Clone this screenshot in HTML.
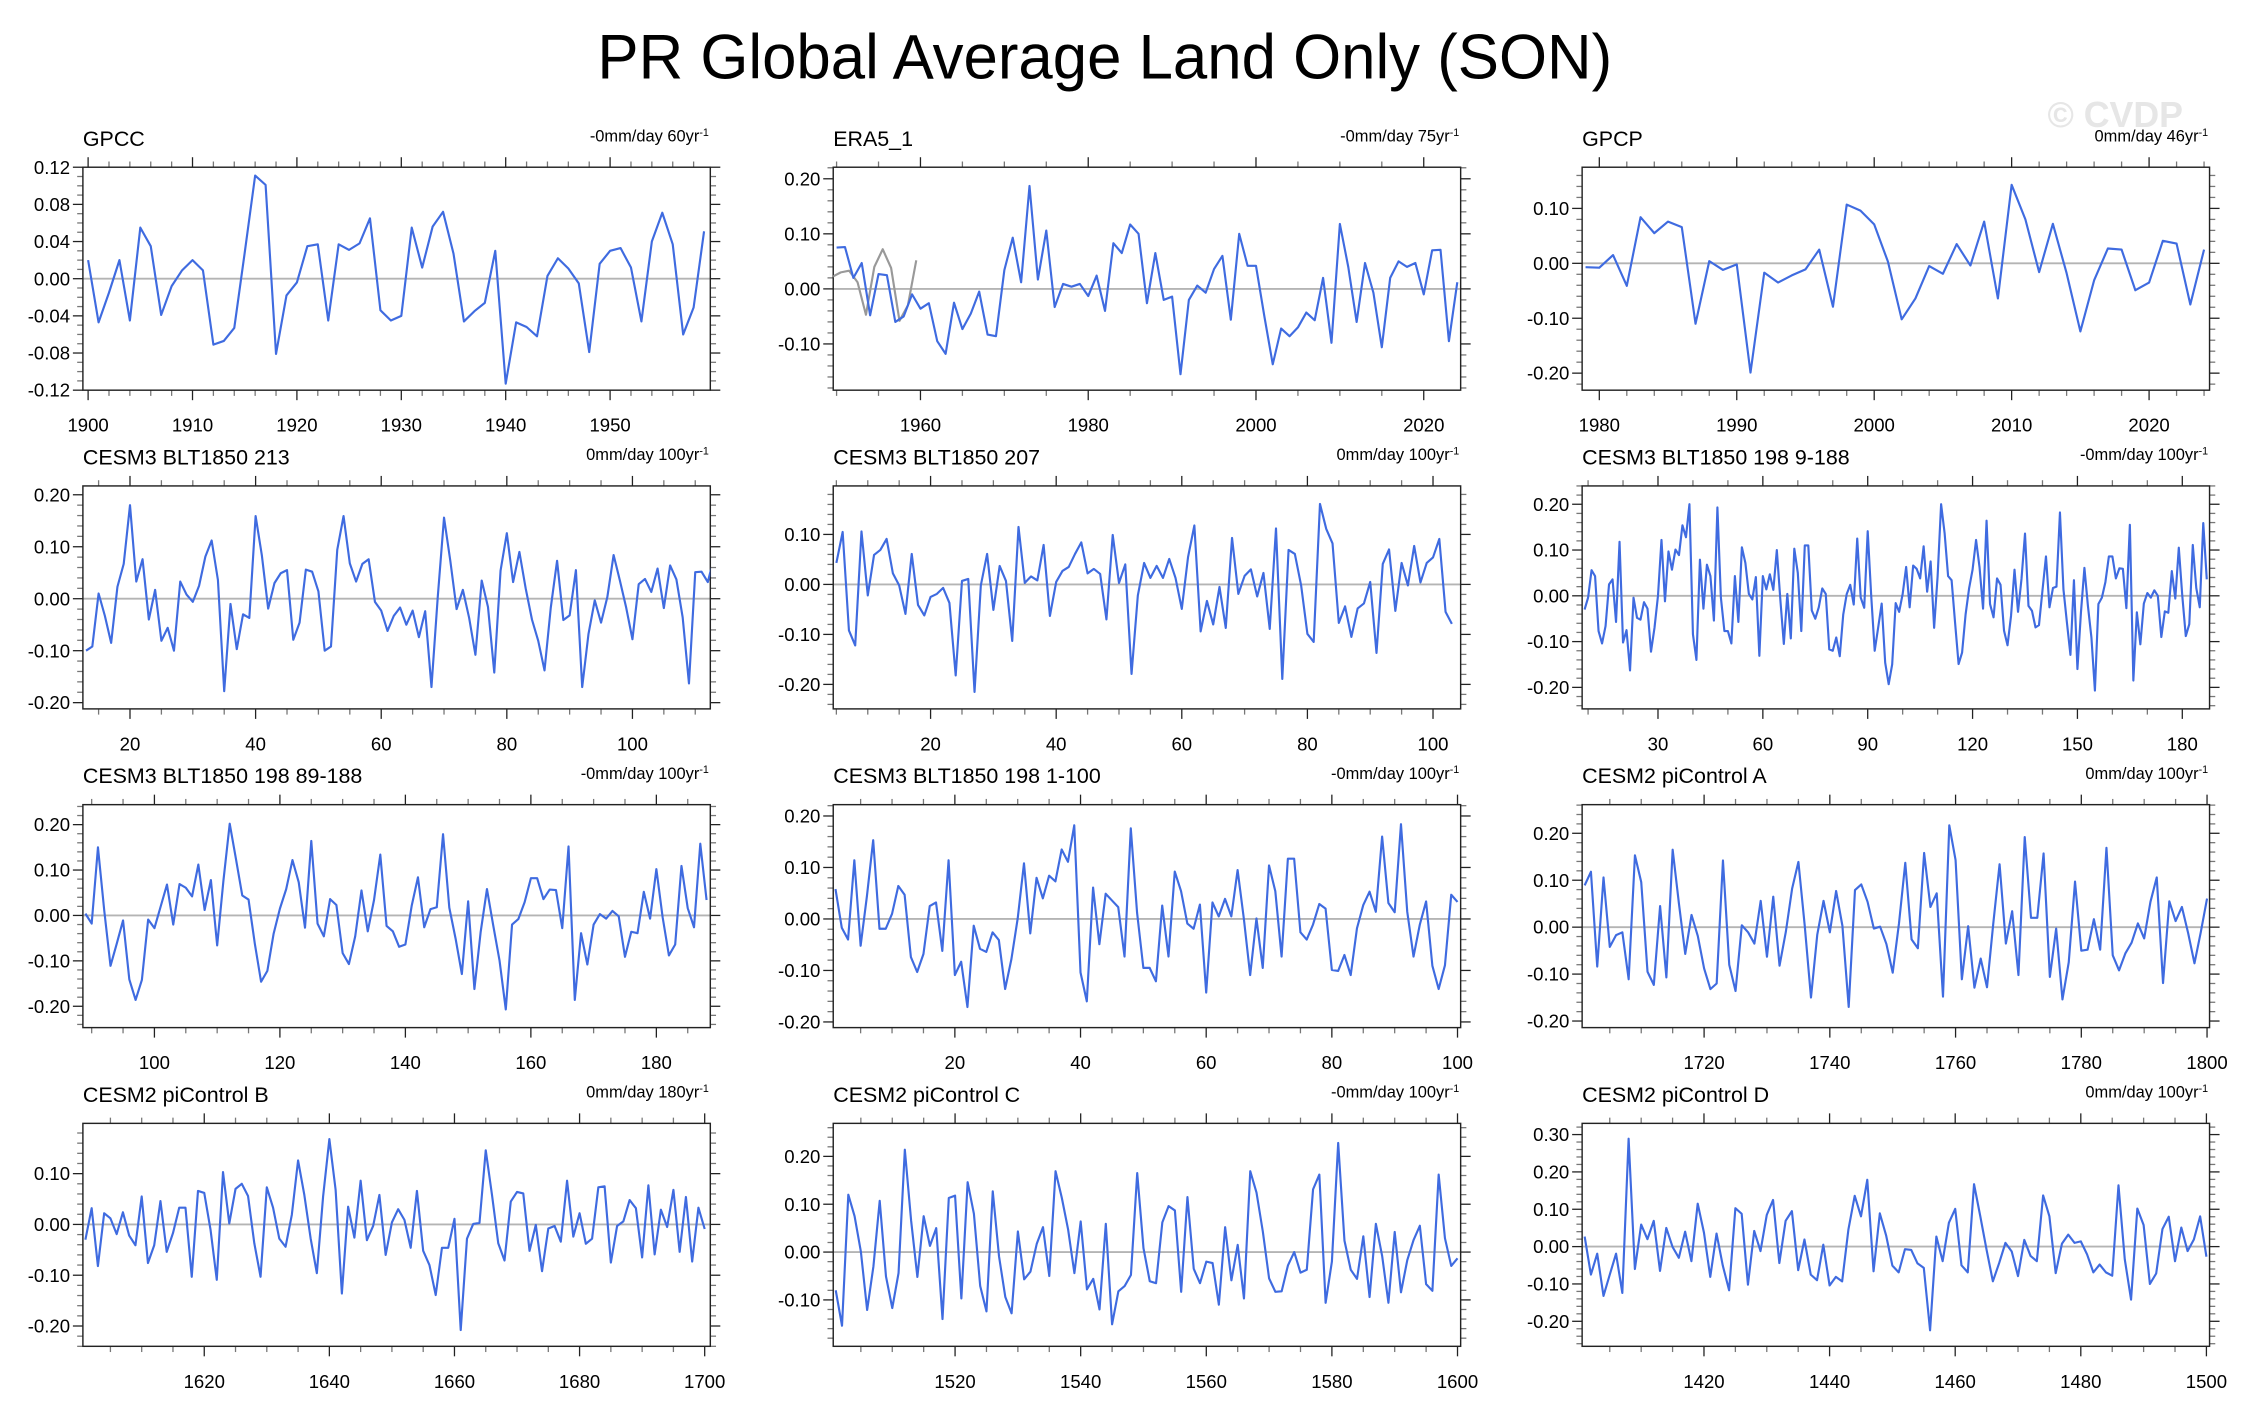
<!DOCTYPE html>
<html><head><meta charset="utf-8">
<style>
html,body{margin:0;padding:0;background:#fff;}
svg{display:block;}
text{font-family:"Liberation Sans",Arial,sans-serif;}
</style></head>
<body>
<svg id="chart" xmlns="http://www.w3.org/2000/svg" width="2241" height="1418" viewBox="0 0 1568 992.15">
<rect x="0" y="0" width="1568" height="992.15" fill="#fff"/>
<text x="773" y="55" font-size="44" text-anchor="middle" textLength="710" lengthAdjust="spacingAndGlyphs" fill="#000">PR Global Average Land Only (SON)</text>
<text x="1480" y="89" font-size="25" font-weight="bold" text-anchor="middle" fill="#e6e6e6">© CVDP</text>
</svg>
<script>
// ---------- data ----------
const gpccVals=[0.02,-0.047,-0.015,0.02,-0.045,0.055,0.035,-0.039,-0.008,0.009,0.02,0.009,-0.071,-0.067,-0.053,0.028,0.111,0.101,-0.081,-0.018,-0.004,0.035,0.037,-0.045,0.037,0.031,0.038,0.065,-0.034,-0.045,-0.04,0.055,0.012,0.056,0.072,0.027,-0.046,-0.035,-0.026,0.03,-0.113,-0.047,-0.052,-0.062,0.003,0.022,0.011,-0.005,-0.079,0.016,0.03,0.033,0.012,-0.046,0.04,0.071,0.037,-0.06,-0.031,0.051];
const era5Vals=[0.075,0.076,0.02,0.047,-0.048,0.027,0.025,-0.06,-0.05,-0.01,-0.036,-0.026,-0.095,-0.118,-0.025,-0.073,-0.045,-0.005,-0.083,-0.086,0.034,0.093,0.012,0.187,0.017,0.106,-0.033,0.009,0.004,0.009,-0.013,0.024,-0.04,0.083,0.065,0.117,0.1,-0.026,0.065,-0.02,-0.014,-0.155,-0.02,0.006,-0.007,0.036,0.06,-0.056,0.1,0.042,0.042,-0.05,-0.137,-0.072,-0.086,-0.07,-0.043,-0.057,0.02,-0.098,0.118,0.04,-0.06,0.047,-0.007,-0.106,0.02,0.05,0.04,0.047,-0.01,0.07,0.071,-0.095,0.012];
const era5GrayVals=[0.022,0.03,0.033,0.012,-0.047,0.04,0.072,0.038,-0.058,-0.03,0.052];
const gpcpVals=[-0.007,-0.008,0.015,-0.041,0.084,0.055,0.076,0.066,-0.11,0.004,-0.012,-0.002,-0.199,-0.017,-0.035,-0.022,-0.011,0.025,-0.079,0.107,0.096,0.071,0.003,-0.102,-0.064,-0.005,-0.019,0.035,-0.004,0.076,-0.064,0.143,0.08,-0.016,0.072,-0.018,-0.124,-0.031,0.027,0.025,-0.049,-0.035,0.041,0.036,-0.075,0.025];
const c213Vals=[-0.1,-0.092,0.01,-0.033,-0.085,0.023,0.067,0.18,0.033,0.076,-0.04,0.017,-0.081,-0.056,-0.1,0.033,0.008,-0.006,0.025,0.081,0.112,0.036,-0.178,-0.01,-0.097,-0.03,-0.037,0.159,0.083,-0.019,0.03,0.049,0.055,-0.079,-0.046,0.056,0.052,0.014,-0.1,-0.092,0.094,0.159,0.068,0.033,0.067,0.076,-0.006,-0.023,-0.062,-0.033,-0.017,-0.05,-0.023,-0.074,-0.024,-0.17,0.003,0.156,0.073,-0.02,0.017,-0.037,-0.108,0.035,-0.016,-0.142,0.054,0.126,0.032,0.09,0.02,-0.04,-0.081,-0.138,-0.017,0.073,-0.041,-0.032,0.055,-0.17,-0.068,-0.003,-0.046,0.003,0.084,0.035,-0.017,-0.078,0.028,0.038,0.013,0.058,-0.018,0.064,0.037,-0.036,-0.163,0.051,0.052,0.032,0.08];
const c207Vals=[0.043,0.105,-0.092,-0.122,0.106,-0.022,0.059,0.069,0.091,0.022,-0.002,-0.059,0.061,-0.041,-0.062,-0.025,-0.019,-0.007,-0.037,-0.182,0.007,0.011,-0.215,-0.002,0.061,-0.051,0.037,0.007,-0.113,0.115,0.003,0.016,0.008,0.079,-0.063,0.005,0.027,0.035,0.061,0.084,0.022,0.031,0.021,-0.07,0.099,0.003,0.04,-0.179,-0.022,0.043,0.013,0.037,0.013,0.051,0.013,-0.049,0.055,0.118,-0.094,-0.033,-0.08,-0.005,-0.087,0.093,-0.019,0.017,0.03,-0.024,0.023,-0.089,0.112,-0.189,0.069,0.061,-0.002,-0.099,-0.115,0.161,0.111,0.082,-0.077,-0.044,-0.105,-0.048,-0.038,0.005,-0.137,0.041,0.07,-0.053,0.043,-0.002,0.077,0.004,0.043,0.054,0.091,-0.055,-0.079];
const c198aVals=[-0.03,-0.004,0.056,0.043,-0.077,-0.104,-0.066,0.025,0.036,-0.057,0.118,-0.102,-0.075,-0.163,-0.004,-0.048,-0.052,-0.014,-0.028,-0.122,-0.07,0,0.122,-0.012,0.097,0.057,0.101,0.089,0.154,0.128,0.2,-0.084,-0.14,0.079,-0.028,0.068,0.043,-0.054,0.193,-0.004,-0.077,-0.077,-0.104,0.043,-0.057,0.106,0.072,0.004,-0.008,0.041,-0.131,0.043,0.014,0.047,0.013,0.1,-0.008,-0.105,0.004,-0.093,0.103,0.05,-0.077,0.11,0.11,-0.032,-0.05,-0.025,0.016,0.004,-0.117,-0.12,-0.091,-0.132,-0.041,0.004,0.024,-0.019,0.125,-0.004,-0.026,0.141,0,-0.12,-0.069,-0.017,-0.146,-0.193,-0.15,-0.016,-0.035,0.004,0.063,-0.025,0.066,0.059,0.038,0.108,0.009,0.075,-0.07,0.043,0.2,0.137,0.043,0.034,-0.059,-0.149,-0.124,-0.041,0.016,0.057,0.122,0.062,-0.028,0.164,-0.018,-0.047,0.038,0.024,-0.076,-0.108,-0.044,0.057,-0.035,0.037,0.136,-0.022,-0.033,-0.069,-0.064,0.012,0.086,-0.025,0.017,0.02,0.182,0.014,-0.059,-0.129,0.034,-0.16,-0.037,0.061,-0.022,-0.091,-0.207,-0.018,-0.004,0.03,0.086,0.086,0.038,0.06,0.059,-0.027,0.155,-0.185,-0.036,-0.106,-0.017,0.006,-0.004,0.012,0,-0.09,-0.034,-0.037,0.054,-0.006,0.105,0,-0.088,-0.062,0.111,0.017,-0.025,0.159,0.036];
const c198bVals=[0.004,-0.018,0.15,0.011,-0.111,-0.062,-0.011,-0.141,-0.186,-0.142,-0.009,-0.028,0.02,0.068,-0.02,0.069,0.061,0.042,0.112,0.012,0.078,-0.066,0.077,0.202,0.124,0.044,0.035,-0.062,-0.146,-0.122,-0.04,0.015,0.058,0.122,0.073,-0.027,0.164,-0.018,-0.046,0.036,0.023,-0.083,-0.107,-0.046,0.055,-0.035,0.034,0.134,-0.023,-0.035,-0.069,-0.064,0.021,0.084,-0.026,0.014,0.018,0.179,0.017,-0.051,-0.129,0.031,-0.162,-0.036,0.058,-0.022,-0.099,-0.207,-0.02,-0.008,0.029,0.082,0.082,0.036,0.057,0.056,-0.028,0.152,-0.186,-0.039,-0.108,-0.02,0.003,-0.007,0.01,-0.002,-0.091,-0.036,-0.039,0.052,-0.007,0.102,-0.004,-0.088,-0.064,0.109,0.016,-0.026,0.158,0.034];
const c198cVals=[0.058,-0.017,-0.04,0.114,-0.052,0.044,0.153,-0.019,-0.019,0.01,0.064,0.047,-0.074,-0.103,-0.068,0.025,0.032,-0.062,0.114,-0.109,-0.083,-0.171,-0.013,-0.058,-0.064,-0.026,-0.041,-0.136,-0.078,0.001,0.108,-0.028,0.08,0.04,0.084,0.073,0.135,0.111,0.182,-0.104,-0.16,0.061,-0.049,0.049,0.036,0.023,-0.073,0.176,0.012,-0.095,-0.095,-0.121,0.026,-0.073,0.092,0.054,-0.009,-0.019,0.028,-0.143,0.032,0.005,0.039,0.005,0.095,0,-0.109,0.001,-0.095,0.104,0.054,-0.073,0.117,0.117,-0.026,-0.04,-0.011,0.029,0.02,-0.099,-0.101,-0.07,-0.109,-0.018,0.027,0.053,0.014,0.16,0.031,0.013,0.184,0.014,-0.073,-0.011,0.034,-0.091,-0.136,-0.09,0.047,0.033];
const pcAVals=[0.089,0.118,-0.084,0.106,-0.042,-0.017,-0.011,-0.111,0.153,0.096,-0.095,-0.123,0.045,-0.107,0.165,0.05,-0.057,0.026,-0.019,-0.088,-0.132,-0.12,0.142,-0.08,-0.136,0.004,-0.011,-0.035,0.056,-0.063,0.065,-0.082,-0.01,0.082,0.139,0.004,-0.15,-0.016,0.056,-0.011,0.077,0.003,-0.17,0.079,0.091,0.054,-0.003,0.001,-0.036,-0.097,0.008,0.137,-0.026,-0.045,0.158,0.043,0.072,-0.148,0.217,0.143,-0.111,0.002,-0.129,-0.067,-0.128,0.008,0.134,-0.035,0.034,-0.102,0.192,0.02,0.02,0.157,-0.106,-0.003,-0.154,-0.075,0.097,-0.05,-0.048,0.017,-0.048,0.169,-0.06,-0.092,-0.056,-0.033,0.008,-0.024,0.054,0.106,-0.119,0.055,0.013,0.043,-0.013,-0.077,-0.011,0.061];
const pcBVals=[-0.03,0.032,-0.082,0.022,0.012,-0.019,0.024,-0.022,-0.041,0.055,-0.076,-0.041,0.046,-0.054,-0.017,0.033,0.033,-0.103,0.066,0.062,-0.01,-0.109,0.103,0.002,0.07,0.08,0.056,-0.037,-0.103,0.073,0.033,-0.028,-0.044,0.019,0.126,0.058,-0.027,-0.096,0.055,0.168,0.068,-0.136,0.035,-0.026,0.086,-0.031,-0.003,0.058,-0.06,0.004,0.03,0.009,-0.046,0.066,-0.052,-0.08,-0.139,-0.046,-0.046,0.011,-0.208,-0.028,0.001,0.003,0.146,0.058,-0.037,-0.071,0.045,0.064,0.061,-0.052,-0.001,-0.092,-0.008,-0.003,-0.034,0.086,-0.024,0.022,-0.038,-0.028,0.073,0.075,-0.075,-0.003,0.006,0.048,0.032,-0.065,0.077,-0.059,0.029,-0.005,0.068,-0.054,0.054,-0.073,0.033,-0.009];
const pcCVals=[-0.08,-0.154,0.12,0.075,0.001,-0.121,-0.03,0.107,-0.051,-0.117,-0.044,0.214,0.066,-0.052,0.075,0.013,0.05,-0.14,0.113,0.118,-0.097,0.146,0.08,-0.071,-0.124,0.127,-0.009,-0.094,-0.128,0.043,-0.057,-0.041,0.017,0.052,-0.05,0.169,0.113,0.047,-0.044,0.064,-0.078,-0.056,-0.12,0.059,-0.151,-0.082,-0.071,-0.048,0.165,0.008,-0.061,-0.065,0.062,0.096,0.087,-0.083,0.115,-0.035,-0.065,-0.02,-0.023,-0.11,0.052,-0.059,0.015,-0.097,0.169,0.124,0.043,-0.055,-0.083,-0.082,-0.028,0,-0.043,-0.037,0.131,0.162,-0.106,-0.02,0.228,0.024,-0.037,-0.056,0.033,-0.094,0.059,-0.008,-0.106,0.042,-0.084,-0.017,0.025,0.055,-0.067,-0.081,0.162,0.029,-0.029,-0.013];
const pcDVals=[0.027,-0.075,-0.019,-0.132,-0.075,-0.019,-0.124,0.289,-0.06,0.059,0.02,0.069,-0.065,0.05,-0.001,-0.03,0.04,-0.039,0.115,0.037,-0.081,0.035,-0.051,-0.117,0.103,0.088,-0.102,0.042,-0.012,0.085,0.125,-0.044,0.069,0.095,-0.063,0.019,-0.075,-0.09,0.005,-0.104,-0.081,-0.093,0.046,0.136,0.081,0.179,-0.066,0.089,0.03,-0.051,-0.069,-0.007,-0.009,-0.045,-0.057,-0.224,0.027,-0.039,0.064,0.101,-0.05,-0.069,0.167,0.081,-0.009,-0.093,-0.044,0.01,-0.013,-0.079,0.018,-0.025,-0.039,0.137,0.081,-0.071,0.008,0.032,0.01,0.014,-0.021,-0.069,-0.048,-0.069,-0.078,0.164,-0.034,-0.142,0.102,0.058,-0.1,-0.072,0.047,0.08,-0.039,0.051,-0.012,0.019,0.081,-0.027];

// tick label arrays
const yTicksGpcc=[-0.12,-0.08,-0.04,0,0.04,0.08,0.12];
const yTicksEra5=[-0.1,0,0.1,0.2];
const yTicksGpcp=[-0.2,-0.1,0,0.1];
const yTicksC213=[-0.2,-0.1,0,0.1,0.2];
const yTicksC207=[-0.2,-0.1,0,0.1];
const yTicksC198a=[-0.2,-0.1,0,0.1,0.2];
const yTicksC198b=[-0.2,-0.1,0,0.1,0.2];
const yTicksC198c=[-0.2,-0.1,0,0.1,0.2];
const yTicksPcA=[-0.2,-0.1,0,0.1,0.2];
const yTicksPcB=[-0.2,-0.1,0,0.1];
const yTicksPcC=[-0.1,0,0.1,0.2];
const yTicksPcD=[-0.2,-0.1,0,0.1,0.2,0.3];
const xTicksGpcc=[1900,1910,1920,1930,1940,1950];
const xTicksEra5=[1960,1980,2000,2020];
const xTicksGpcp=[1980,1990,2000,2010,2020];
const xTicksC213=[20,40,60,80,100];
const xTicksC207=[20,40,60,80,100];
const xTicksC198a=[30,60,90,120,150,180];
const xTicksC198b=[100,120,140,160,180];
const xTicksC198c=[20,40,60,80,100];
const xTicksPcA=[1720,1740,1760,1780,1800];
const xTicksPcB=[1620,1640,1660,1680,1700];
const xTicksPcC=[1520,1540,1560,1580,1600];
const xTicksPcD=[1420,1440,1460,1480,1500];

// ---------- layout ----------
const colX=[58,583,1107], rowY=[117,340,563,786], BW=439, BH=156;
const panels=[
 {id:'gpcc',title:'GPCC',rl:'-0mm/day 60yr',c:0,r:0,x0:1899.5,x1:1959.6,y0:-0.12,y1:0.12,start:1900,vals:gpccVals,yt:yTicksGpcc,xt:xTicksGpcc,xmin:2,ymin:0.01},
 {id:'era5',title:'ERA5_1',rl:'-0mm/day 75yr',c:1,r:0,x0:1949.6,x1:2024.4,y0:-0.184,y1:0.221,start:1950,vals:era5Vals,gray:era5GrayVals,grayStart:1949.5,yt:yTicksEra5,xt:xTicksEra5,xmin:5,ymin:0.02},
 {id:'gpcp',title:'GPCP',rl:'0mm/day 46yr',c:2,r:0,x0:1978.75,x1:2024.4,y0:-0.231,y1:0.175,start:1979,vals:gpcpVals,yt:yTicksGpcp,xt:xTicksGpcp,xmin:2,ymin:0.02},
 {id:'cesm3-213',title:'CESM3 BLT1850 213',rl:'0mm/day 100yr',c:0,r:1,x0:12.5,x1:112.4,y0:-0.212,y1:0.217,start:13,vals:c213Vals,yt:yTicksC213,xt:xTicksC213,xmin:5,ymin:0.02},
 {id:'cesm3-207',title:'CESM3 BLT1850 207',rl:'0mm/day 100yr',c:1,r:1,x0:4.5,x1:104.4,y0:-0.249,y1:0.197,start:5,vals:c207Vals,yt:yTicksC207,xt:xTicksC207,xmin:5,ymin:0.02},
 {id:'cesm3-198-9-188',title:'CESM3 BLT1850 198 9-188',rl:'-0mm/day 100yr',c:2,r:1,x0:8.3,x1:187.8,y0:-0.247,y1:0.24,start:9,vals:c198aVals,yt:yTicksC198a,xt:xTicksC198a,xmin:10,ymin:0.02},
 {id:'cesm3-198-89-188',title:'CESM3 BLT1850 198 89-188',rl:'-0mm/day 100yr',c:0,r:2,x0:88.6,x1:188.6,y0:-0.247,y1:0.244,start:89,vals:c198bVals,yt:yTicksC198b,xt:xTicksC198b,xmin:5,ymin:0.02},
 {id:'cesm3-198-1-100',title:'CESM3 BLT1850 198 1-100',rl:'-0mm/day 100yr',c:1,r:2,x0:0.64,x1:100.5,y0:-0.211,y1:0.222,start:1,vals:c198cVals,yt:yTicksC198c,xt:xTicksC198c,xmin:5,ymin:0.02},
 {id:'cesm2-a',title:'CESM2 piControl A',rl:'0mm/day 100yr',c:2,r:2,x0:1700.6,x1:1800.4,y0:-0.214,y1:0.261,start:1701,vals:pcAVals,yt:yTicksPcA,xt:xTicksPcA,xmin:5,ymin:0.02},
 {id:'cesm2-b',title:'CESM2 piControl B',rl:'0mm/day 180yr',c:0,r:3,x0:1600.6,x1:1700.9,y0:-0.24,y1:0.199,start:1601,vals:pcBVals,yt:yTicksPcB,xt:xTicksPcB,xmin:5,ymin:0.02},
 {id:'cesm2-c',title:'CESM2 piControl C',rl:'-0mm/day 100yr',c:1,r:3,x0:1500.6,x1:1600.5,y0:-0.197,y1:0.269,start:1501,vals:pcCVals,yt:yTicksPcC,xt:xTicksPcC,xmin:5,ymin:0.02},
 {id:'cesm2-d',title:'CESM2 piControl D',rl:'0mm/day 100yr',c:2,r:3,x0:1400.6,x1:1500.5,y0:-0.267,y1:0.33,start:1401,vals:pcDVals,yt:yTicksPcD,xt:xTicksPcD,xmin:5,ymin:0.02}
];

const NS='http://www.w3.org/2000/svg';
const svg=document.getElementById('chart');
function mk(tag,attrs,parent){const e=document.createElementNS(NS,tag);for(const k in attrs)e.setAttribute(k,attrs[k]);(parent||svg).appendChild(e);return e;}

panels.forEach((p,pi)=>{
  const L=colX[p.c], T=rowY[p.r], R=L+BW, B=T+BH;
  const sx=v=>L+(v-p.x0)/(p.x1-p.x0)*BW;
  const sy=v=>B-(v-p.y0)/(p.y1-p.y0)*BH;
  const g=mk('g',{});
  
  
  const clipId='clip'+pi;
  const cp=mk('clipPath',{id:clipId},g);
  mk('rect',{x:L,y:T,width:BW,height:BH},cp);
  const zl=mk('line',{x1:L,x2:R,y1:sy(0),y2:sy(0),stroke:'#b4b4b4','stroke-width':1.3},g);
  
  
  const tg=mk('g',{stroke:'#222','stroke-width':0.9},g);
  
  
  const eps=1e-6;
  let xs=Math.ceil(p.x0/p.xmin)*p.xmin;
  for(let v=xs;v<=p.x1+eps;v+=p.xmin){
    const major=p.xt.some(t=>Math.abs(t-v)<eps) || Math.abs(v/(p.xt[1]-p.xt[0])-Math.round(v/(p.xt[1]-p.xt[0])))<eps;
    const len=major?7:4, x=sx(v);
    mk('line',{x1:x,x2:x,y1:B,y2:B+len,stroke:major?'#222':'#777'},tg);
    mk('line',{x1:x,x2:x,y1:T,y2:T-len,stroke:major?'#222':'#777'},tg);
  }
  const ystep=p.yt[1]-p.yt[0];
  let ys=Math.ceil((p.y0-eps)/p.ymin)*p.ymin;
  for(let v=ys;v<=p.y1+eps;v+=p.ymin){
    const major=Math.abs(v/ystep-Math.round(v/ystep))<1e-4;
    const len=major?7:4, y=sy(v);
    mk('line',{x1:L,x2:L-len,y1:y,y2:y,stroke:major?'#222':'#777'},tg);
    mk('line',{x1:R,x2:R+len,y1:y,y2:y,stroke:major?'#222':'#777'},tg);
  }
  const fr=mk('rect',{x:L,y:T,width:BW,height:BH,fill:'none',stroke:'#222','stroke-width':1},g);
  
  
  p.yt.forEach(v=>{
    const t=mk('text',{x:L-9,y:sy(v)+4.6,'font-size':13,'text-anchor':'end',fill:'#000'},g);
    
    
    t.textContent=v.toFixed(2);
  });
  p.xt.forEach(v=>{
    const t=mk('text',{x:sx(v),y:B+29,'font-size':13,'text-anchor':'middle',fill:'#000'},g);
    
    
    t.textContent=String(v);
  });
  const tt=mk('text',{x:L,y:T-15,'font-size':15,fill:'#000'},g);
  
  
  tt.textContent=p.title;
  const rl=mk('text',{x:R-1,y:T-18,'font-size':11.5,'text-anchor':'end',fill:'#000'},g);
  
  
  rl.textContent=p.rl;
  const sup=mk('tspan',{dy:-4,'font-size':7.5},rl);
  sup.textContent='-1';
  const lg=mk('g',{'clip-path':'url(#'+clipId+')'},g);
  if(p.gray){
    const pts=p.gray.map((v,i)=>sx(p.grayStart+i).toFixed(2)+','+sy(v).toFixed(2)).join(' ');
    const gl=mk('polyline',{points:pts,fill:'none',stroke:'#999','stroke-width':1.5,'stroke-linejoin':'round'},lg);
    
    
  }
  const pts=p.vals.map((v,i)=>sx(p.start+i).toFixed(2)+','+sy(v).toFixed(2)).join(' ');
  const pl=mk('polyline',{points:pts,fill:'none',stroke:'#3f6be0','stroke-width':1.5,'stroke-linejoin':'round'},lg);
  
  
});
</script>
</body></html>
